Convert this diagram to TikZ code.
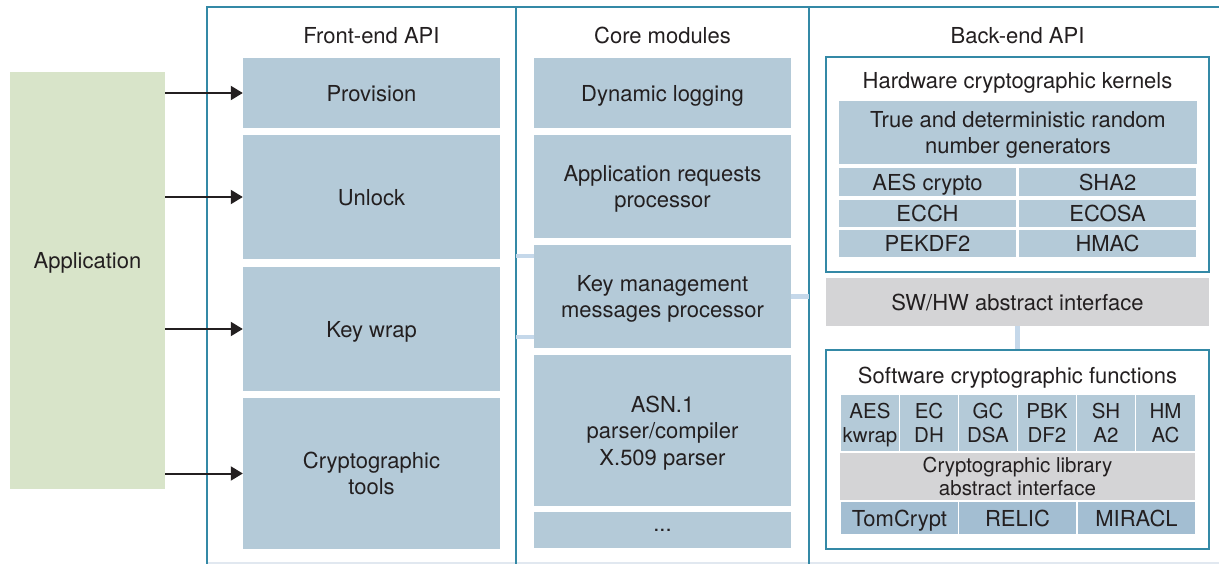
\documentclass[tikz,border=0pt]{standalone}
\usepackage{fontspec}
\setmainfont{TeX Gyre Heros}
\usetikzlibrary{arrows.meta}
\definecolor{frameC}{RGB}{52,137,166}
\definecolor{boxC}{RGB}{180,202,216}
\definecolor{darkC}{RGB}{163,190,210}
\definecolor{grayC}{RGB}{212,212,214}
\definecolor{greenC}{RGB}{216,228,201}
\definecolor{linkC}{RGB}{197,216,234}
\definecolor{txtC}{RGB}{35,31,32}
\definecolor{baseC}{RGB}{225,232,240}
\begin{document}
\begin{tikzpicture}[x=1pt,y=-1pt,
  blk/.style={fill=boxC, inner sep=0pt, align=center, text=txtC, text depth=0pt,
    font=\fontsize{22}{26.5}\selectfont},
  grayblk/.style={blk, fill=grayC},
  darkblk/.style={blk, fill=darkC},
  small/.style={font=\fontsize{20.5}{24}\selectfont},
  grp/.style={draw=frameC, line width=2pt, fill=white, inner sep=0pt},
  title/.style={text=txtC, anchor=base, inner sep=0pt,
    font=\fontsize{22}{26.5}\selectfont},
  arr/.style={line width=2pt, draw=txtC,
    -{Triangle[length=12pt,width=14pt,fill=txtC]}},
  link/.style={draw=linkC, line width=4.5pt},
  frame/.style={draw=frameC, line width=2.2pt}
]
\useasboundingbox (0,0) rectangle (1219,564);
\fill[white] (0,0) rectangle (1219,564);

% column frame
\coordinate (fl) at (207,7);
\coordinate (d1) at (516,7);
\coordinate (d2) at (809,7);
\draw[baseC, line width=1.5pt] (207,563) -- (1219,563);
\draw[frame] (207,566) -- (fl) -- (1219,7);
\draw[frame] (d1) -- (516,566);
\draw[frame] (d2) -- (809,566);

% titles
\node[title] (tfront) at (371.5,44) {Front-end API};
\node[title] (tcore) at (662.5,44) {Core modules};
\node[title] (tback) at (1017.5,44) {Back-end API};

% application
\node[fill=greenC, minimum width=155pt, minimum height=417pt, inner sep=0pt] (app) at (87.5,280.5) {};
\node[blk, fill=none] (appt) at (87.5,260) {Application};

% front-end boxes
\node[blk, minimum width=257pt, minimum height=70pt] (prov) at (371.5,93) {Provision};
\node[blk, minimum width=257pt, minimum height=124pt] (unlock) at (371.5,197) {Unlock};
\node[blk, minimum width=257pt, minimum height=124pt] (kwrap) at (371.5,329) {Key wrap};
\node[blk, minimum width=257pt, minimum height=151pt] (ctools) at (371.5,473.5) {Cryptographic\\tools};

% core boxes
\node[blk, minimum width=257pt, minimum height=70pt] (dlog) at (662.5,93) {Dynamic logging};
\node[blk, minimum width=257pt, minimum height=103pt] (appreq) at (662.5,186.5) {Application requests\\processor};
\node[blk, minimum width=257pt, minimum height=103pt] (keymgmt) at (662.5,296.5) {Key management\\messages processor};
\node[blk, minimum width=257pt, minimum height=151pt] (asn) at (662.5,430.5) {ASN.1\\parser/compiler\\X.509 parser};
\node[blk, minimum width=257pt, minimum height=36pt] (dots) at (662.5,530) {...};

% back-end: hardware
\node[grp, minimum width=383pt, minimum height=215pt] (hw) at (1017.5,164.5) {};
\node[title] (thw) at (1017.5,89) {Hardware cryptographic kernels};
\node[blk, minimum width=358pt, minimum height=63pt] (trng) at (1018,132.5) {True and deterministic random\\number generators};
\node[blk, minimum width=177pt, minimum height=28pt] (aes) at (927.5,182) {AES crypto};
\node[blk, minimum width=177pt, minimum height=28pt] (sha) at (1107.5,182) {SHA2};
\node[blk, minimum width=177pt, minimum height=27pt] (ecch) at (927.5,213.5) {ECCH};
\node[blk, minimum width=177pt, minimum height=27pt] (ecosa) at (1107.5,213.5) {ECOSA};
\node[blk, minimum width=177pt, minimum height=27pt] (pekdf) at (927.5,243.5) {PEKDF2};
\node[blk, minimum width=177pt, minimum height=27pt] (hmac) at (1107.5,243.5) {HMAC};

% SW/HW interface
\node[grayblk, minimum width=383pt, minimum height=48pt] (swhw) at (1017.5,302) {SW/HW abstract interface};

% back-end: software
\node[grp, minimum width=383pt, minimum height=199pt] (sw) at (1017.5,449.5) {};
\node[title] (tsw) at (1017.5,383) {Software cryptographic functions};
\node[blk, small, minimum width=58pt, minimum height=56pt] (s1) at (870,423) {AES\\kwrap};
\node[blk, small, minimum width=58pt, minimum height=56pt] (s2) at (929,423) {EC\\DH};
\node[blk, small, minimum width=58pt, minimum height=56pt] (s3) at (988,423) {GC\\DSA};
\node[blk, small, minimum width=58pt, minimum height=56pt] (s4) at (1047,423) {PBK\\DF2};
\node[blk, small, minimum width=58pt, minimum height=56pt] (s5) at (1106,423) {SH\\A2};
\node[blk, small, minimum width=59pt, minimum height=56pt] (s6) at (1165.5,423) {HM\\AC};
\node[grayblk, font=\fontsize{20.5}{23}\selectfont, minimum width=355pt, minimum height=47pt] (clib) at (1017.5,476.5) {Cryptographic library\\abstract interface};
\node[darkblk, minimum width=117pt, minimum height=32pt] (tom) at (899.5,518) {TomCrypt};
\node[darkblk, minimum width=117pt, minimum height=32pt] (relic) at (1017.5,518) {RELIC};
\node[darkblk, minimum width=117pt, minimum height=32pt] (miracl) at (1136.5,518) {MIRACL};

% links
\draw[link] (d1 |- 0,256) -- (keymgmt.west |- 0,256);
\draw[link] (d1 |- 0,337) -- (keymgmt.west |- 0,337);
\draw[link] (keymgmt.east) -- (d2 |- keymgmt.east);
\draw[link] (swhw.south) -- (sw.north);

% arrows
\draw[arr] (app.east |- prov.west) -- (prov.west);
\draw[arr] (app.east |- unlock.west) -- (unlock.west);
\draw[arr] (app.east |- kwrap.west) -- (kwrap.west);
\draw[arr] (app.east |- ctools.west) -- (ctools.west);
\end{tikzpicture}
\end{document}
